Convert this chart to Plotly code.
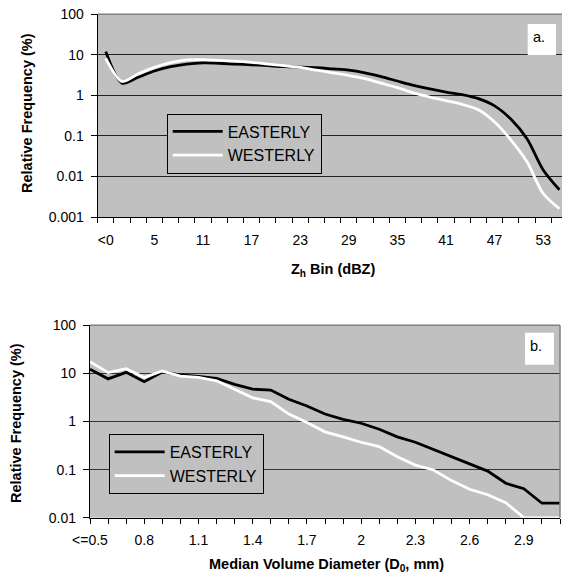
import plotly.graph_objects as go

W, H = 562, 575

# ---------------- data: panel a ----------------
zh_bins = ["<0", "1", "3", "5", "7", "9", "11", "13", "15", "17", "19", "21", "23", "25",
           "27", "29", "31", "33", "35", "37", "39", "41", "43", "45", "47", "49", "51",
           "53", "55"]
zh_easterly = [12.0, 2.0, 2.8, 4.0, 5.1, 5.9, 6.3, 6.2, 5.9, 5.7, 5.4, 5.1, 5.0, 4.8,
               4.5, 4.2, 3.6, 2.9, 2.26, 1.77, 1.44, 1.21, 1.04, 0.83, 0.55, 0.26, 0.085,
               0.0145, 0.0047]
zh_westerly = [8.2, 2.2, 3.4, 4.9, 6.4, 7.5, 7.6, 7.3, 7.0, 6.5, 5.9, 5.4, 4.9, 4.2,
               3.6, 3.1, 2.6, 2.0, 1.55, 1.15, 0.91, 0.74, 0.60, 0.44, 0.22, 0.08, 0.023,
               0.0038, 0.0016]
zh_ticklabels = ["<0", "5", "11", "17", "23", "29", "35", "41", "47", "53"]

# ---------------- data: panel b ----------------
d0_bins = ["<=0.5", "0.6", "0.7", "0.8", "0.9", "1", "1.1", "1.2", "1.3", "1.4", "1.5",
           "1.6", "1.7", "1.8", "1.9", "2", "2.1", "2.2", "2.3", "2.4", "2.5", "2.6",
           "2.7", "2.8", "2.9", "3", "3.1"]
d0_easterly = [12.2, 7.7, 10.5, 6.7, 10.7, 9.3, 8.7, 7.9, 5.9, 4.7, 4.5, 2.9, 2.1, 1.43,
               1.11, 0.92, 0.69, 0.48, 0.37, 0.26, 0.185, 0.13, 0.093, 0.052, 0.040,
               0.020, 0.020]
d0_westerly = [17.5, 10.4, 12.5, 8.2, 11.2, 8.8, 8.3, 7.0, 4.7, 3.1, 2.6, 1.43, 0.95,
               0.61, 0.48, 0.37, 0.30, 0.185, 0.124, 0.098, 0.059, 0.039, 0.030, 0.0205,
               0.010, 0.0099, 0.0099]
d0_ticklabels = ["<=0.5", "0.8", "1.1", "1.4", "1.7", "2", "2.3", "2.6", "2.9"]

ya_vals = [0.001, 0.01, 0.1, 1, 10, 100]
ya_text = ["0.001", "0.01", "0.1", "1", "10", "100"]
yb_vals = [0.01, 0.1, 1, 10, 100]
yb_text = ["0.01", "0.1", "1", "10", "100"]

series_names = ["EASTERLY", "WESTERLY"]
series_colors = ["black", "white"]

FONT = "Arial, 'Liberation Sans', sans-serif"
BG = "#c0c0c0"

zh_pos = list(range(len(zh_bins)))
d0_pos = list(range(len(d0_bins)))

fig = go.Figure()

for name, col, vals in zip(series_names, series_colors, [zh_easterly, zh_westerly]):
    fig.add_trace(go.Scatter(
        x=zh_pos, y=vals, mode="lines", name=name,
        line=dict(color=col, width=2.8, shape="spline", smoothing=0.8),
        xaxis="x", yaxis="y", legend="legend", hoverinfo="skip"))

for name, col, vals in zip(series_names, series_colors, [d0_easterly, d0_westerly]):
    fig.add_trace(go.Scatter(
        x=d0_pos, y=vals, mode="lines", name=name,
        line=dict(color=col, width=2.8),
        xaxis="x2", yaxis="y2", legend="legend2", hoverinfo="skip"))

def px_x(p):
    return p / W

def px_y(p):
    return 1 - p / H

# panel a geometry
a_left, a_right, a_top, a_bot = 97.7, 562.0, 14.3, 217.0
a_cat = 16.2
a_range = [-0.5, -0.5 + (a_right - a_left) / a_cat]
# panel b geometry
b_left, b_right, b_top, b_bot = 90.0, 560.0, 325.3, 517.7

axis_common = dict(showline=True, linecolor="black", linewidth=1.3,
                   tickfont=dict(family=FONT, size=14, color="black"),
                   zeroline=False, automargin=False)

zh_tickpos = [zh_bins.index(t) for t in zh_ticklabels]
d0_tickpos = [d0_bins.index(t) for t in d0_ticklabels]

fig.update_layout(
    width=W, height=H,
    margin=dict(l=0, r=0, t=0, b=0, autoexpand=False),
    paper_bgcolor="white", plot_bgcolor=BG,
    font=dict(family=FONT, size=14, color="black"),
    showlegend=True,
    xaxis=dict(**axis_common, domain=[px_x(a_left), px_x(a_right)], range=a_range,
               anchor="y", tickmode="array", tickvals=zh_tickpos, ticktext=zh_ticklabels,
               ticks="", showgrid=False, ticklabelstandoff=10,
               minor=dict(tickmode="linear", tick0=-0.5, dtick=1, ticks="outside",
                          ticklen=5, tickwidth=1.2, tickcolor="black", showgrid=False)),
    yaxis=dict(**axis_common, type="log", domain=[px_y(a_bot), px_y(a_top)],
               range=[-3, 2], anchor="x", tickmode="array", tickvals=ya_vals,
               ticktext=ya_text, ticks="outside", ticklen=6, tickwidth=1.2,
               tickcolor="black", showgrid=True, gridcolor="#222", gridwidth=1,
               ticklabelstandoff=4),
    xaxis2=dict(**axis_common, domain=[px_x(b_left), px_x(b_right)],
                range=[0, len(d0_bins) - 1], anchor="y2", tickmode="array",
                tickvals=d0_tickpos, ticktext=d0_ticklabels,
                ticks="outside", ticklen=5, tickwidth=1.2, tickcolor="black",
                showgrid=False, ticklabelstandoff=4,
                minor=dict(tickmode="linear", tick0=0, dtick=1, ticks="outside",
                           ticklen=5, tickwidth=1.2, tickcolor="black", showgrid=False)),
    yaxis2=dict(**axis_common, type="log", domain=[px_y(b_bot), px_y(b_top)],
                range=[-2, 2], anchor="x2", tickmode="array", tickvals=yb_vals,
                ticktext=yb_text, ticks="outside", ticklen=6, tickwidth=1.2,
                tickcolor="black", showgrid=True, gridcolor="#333", gridwidth=1,
                ticklabelstandoff=4),
    legend=dict(x=px_x(166.7), y=px_y(113.5), xanchor="left", yanchor="top",
                bgcolor=BG, bordercolor="black", borderwidth=1,
                font=dict(family=FONT, size=16, color="black"),
                itemwidth=50, tracegroupgap=0, entrywidth=122, entrywidthmode="pixels"),
    legend2=dict(x=px_x(108.7), y=px_y(434), xanchor="left", yanchor="top",
                 bgcolor=BG, bordercolor="black", borderwidth=1,
                 font=dict(family=FONT, size=16, color="black"),
                 itemwidth=50, tracegroupgap=0, entrywidth=133, entrywidthmode="pixels"),
)

shapes = []
# grey plot-area frame (top edges, right edge of panel b)
shapes.append(dict(type="line", xref="x domain", yref="y domain", x0=0, x1=1, y0=1, y1=1,
                   line=dict(color="#808080", width=1.5), layer="above"))
shapes.append(dict(type="line", xref="x2 domain", yref="y2 domain", x0=0, x1=1, y0=1, y1=1,
                   line=dict(color="#808080", width=1.5), layer="above"))
shapes.append(dict(type="line", xref="x2 domain", yref="y2 domain", x0=1, x1=1, y0=0, y1=1,
                   line=dict(color="#808080", width=1.5), layer="above"))
# white panel-label boxes
shapes.append(dict(type="rect", xref="paper", yref="paper",
                   x0=px_x(527.7), x1=px_x(556), y0=px_y(55), y1=px_y(24),
                   fillcolor="white", line=dict(width=0), layer="above"))
shapes.append(dict(type="rect", xref="paper", yref="paper",
                   x0=px_x(525), x1=px_x(554), y0=px_y(364.7), y1=px_y(332.7),
                   fillcolor="white", line=dict(width=0), layer="above"))
fig.update_layout(shapes=shapes)

def note(text, x, y, angle=0):
    return dict(text=text, x=px_x(x), y=px_y(y), xref="paper", yref="paper",
                xanchor="center", yanchor="middle", showarrow=False, textangle=angle,
                font=dict(family=FONT, size=14.5, color="black"))

ann = [
    note("a.", 538.5, 37),
    note("b.", 536.3, 345.5),
    note("<b>Relative Frequency (%)</b>", 27, 113, -90),
    note("<b>Relative Frequency (%)</b>", 16, 423, -90),
    note("<b>Z<sub>h</sub> Bin (dBZ)</b>", 332.6, 270),
    note("<b>Median Volume Diameter (D<sub>0</sub>, mm)</b>", 326, 565),
]
fig.update_layout(annotations=ann)

fig.write_html("out.html", config={"displayModeBar": False},
               post_script="document.body.style.margin='0px';")
